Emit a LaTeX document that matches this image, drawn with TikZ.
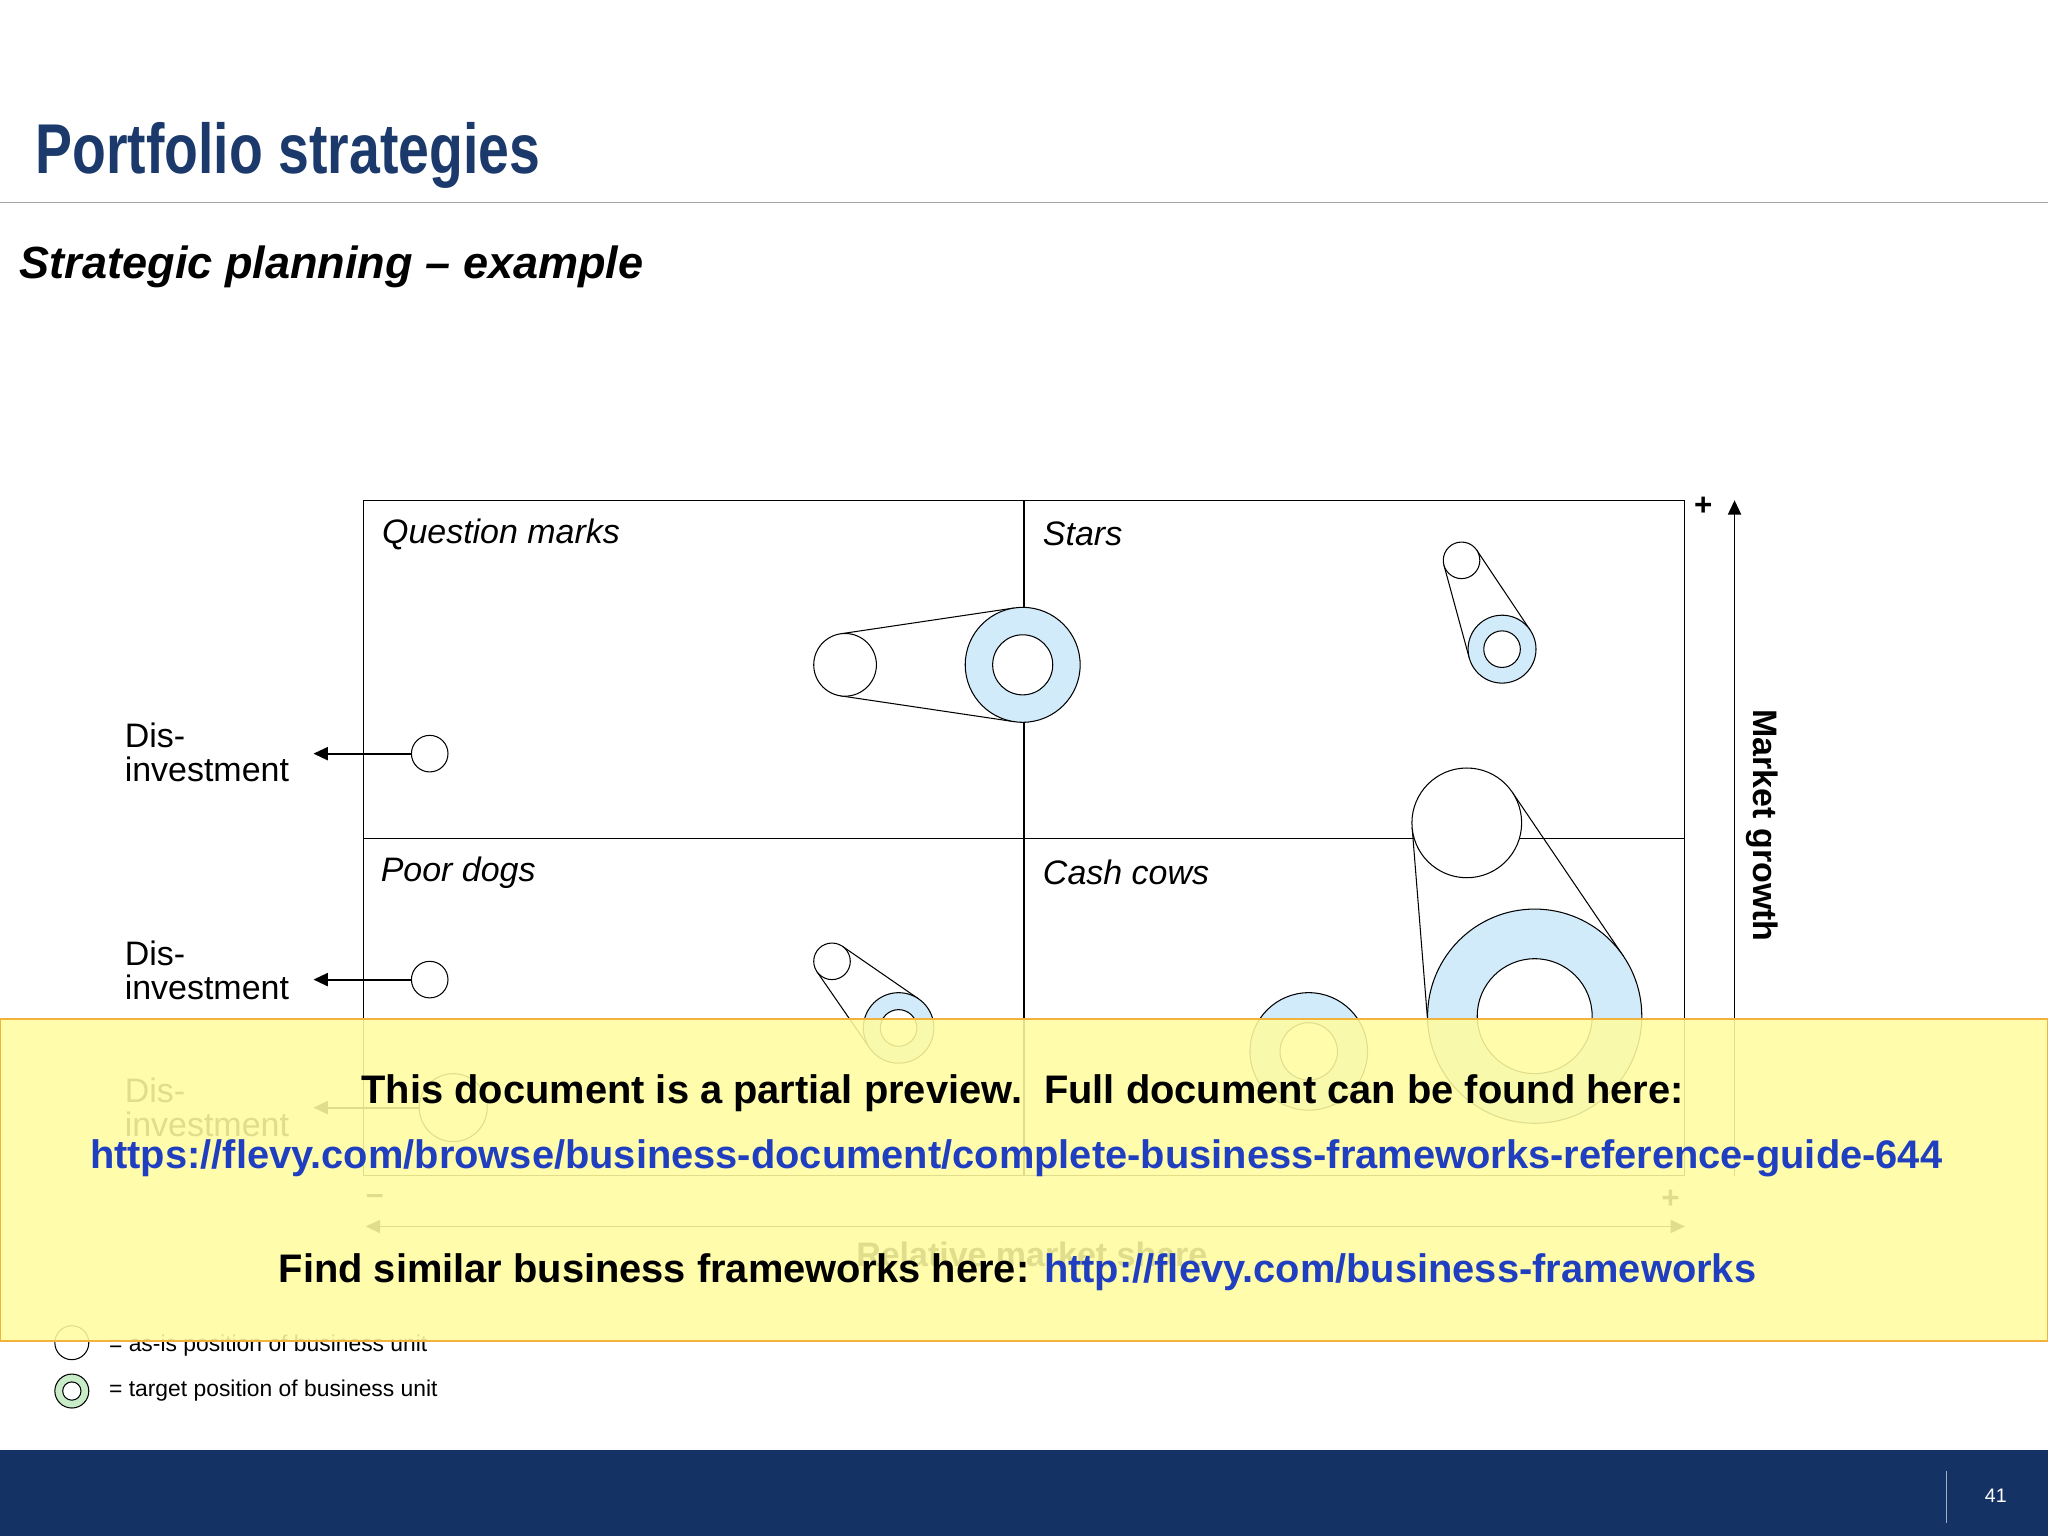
\documentclass[tikz,border=0pt]{standalone}
\usepackage{fontspec}
\setmainfont{Liberation Sans}
\usetikzlibrary{calc,arrows.meta}
\definecolor{navy}{HTML}{1B3A6B}
\definecolor{footblue}{HTML}{143263}
\definecolor{lblue}{HTML}{D2EBFB}
\definecolor{lgreen}{HTML}{C8ECC8}
\definecolor{linkblue}{HTML}{1F3FC0}
\definecolor{ovyellow}{HTML}{FFFCA0}
\definecolor{ovorange}{HTML}{F2B33D}
\newcommand{\fs}[1]{\fontsize{#1}{#1}\selectfont}
\newcommand{\belt}[6]{%
  \pgfmathsetmacro{\bdx}{#4-#1}\pgfmathsetmacro{\bdy}{#5-#2}%
  \pgfmathsetmacro{\bd}{veclen(\bdx,\bdy)}%
  \pgfmathsetmacro{\bth}{atan2(\bdy,\bdx)}%
  \pgfmathsetmacro{\bal}{acos((#3-#6)/\bd)}%
  \draw[thick] ($(#1,#2)+(\bth+\bal:#3)$) -- ($(#4,#5)+(\bth+\bal:#6)$);
  \draw[thick] ($(#1,#2)+(\bth-\bal:#3)$) -- ($(#4,#5)+(\bth-\bal:#6)$);}
\tikzset{
  asis/.style={circle,draw,thick,fill=white,inner sep=0pt,minimum size=#1},
  tgt/.style={circle,draw,thick,fill=lblue,inner sep=0pt,minimum size=#1},
  inner/.style={circle,draw,thick,fill=white,inner sep=0pt,minimum size=#1},
  quad/.style={anchor=west,font=\fs{26}\itshape},
  dis/.style={anchor=west,align=left,font=\fs{26}},
  arr/.style={line width=1.4,-{Triangle[length=11,width=10]}},
}
\begin{document}
\begin{tikzpicture}[x=1pt,y=-1pt]
\useasboundingbox (0,0) rectangle (1568,1176);
\fill[white] (0,0) rectangle (1568,1176);
% title
\node[anchor=base west,text=navy,inner sep=0] (title) at (27,133) {\scalebox{0.785}[1]{\fs{54}\bfseries Portfolio strategies}};
\draw[gray!70,line width=1.2] (0,155) -- (1568,155);
\node[anchor=base west,inner sep=0] (sub) at (15,213) {\fs{34.5}\bfseries\itshape Strategic planning -- example};
% grid
\draw[thick] (278,383) rectangle (1290,900);
\draw[thick] (784,383) -- (784,900);
\draw[thick] (278,642) -- (1290,642);
\node[quad] (qm) at (289,409) {Question marks};
\node[quad] (st) at (795,409) {Stars};
\node[quad] (pd) at (288,668) {Poor dogs};
\node[quad] (cc) at (795,668) {Cash cows};
% axes
\coordinate (ytop) at (1328,383); \coordinate (ybot) at (1328,900);
\draw[arr] (ybot) -- (ytop);
\node[font=\fs{24}\bfseries] (plus1) at (1304,388) {+};
\node[rotate=-90,font=\fs{26}\bfseries] (mg) at (1349,632) {Market growth};
\coordinate (xl) at (280,939); \coordinate (xr) at (1290,939);
\draw[line width=1.4,{Triangle[length=11,width=10]}-{Triangle[length=11,width=10]}] (xl) -- (xr);
\node[font=\fs{24}\bfseries] (minus) at (287,918) {--};
\node[font=\fs{24}\bfseries] (plus2) at (1279,918) {+};
\node[font=\fs{26}\bfseries] (rms) at (790,960) {Relative market share};
% disinvestment
\node[dis] (d1) at (92,576) {Dis-\\investment};
\node[asis=28] (c1) at (329,577) {};
\draw[arr] (c1) -- (240,577);
\node[dis] (d2) at (92,743) {Dis-\\investment};
\node[asis=28] (c2) at (329,750) {};
\draw[arr] (c2) -- (240,750);
\node[dis] (d3) at (92,848) {Dis-\\investment};
\node[asis=52] (c3) at (347,848) {};
\draw[arr] (c3) -- (240,848);
% question marks
\belt{647}{509}{24}{783}{509}{44}
\node[asis=48] (qa) at (647,509) {};
\node[tgt=88] (qt) at (783,509) {};
\node[inner=46] (qi) at (783,509) {};
% stars
\belt{1119}{429}{14}{1150}{497}{26}
\node[asis=28] (sa) at (1119,429) {};
\node[tgt=52] (stt) at (1150,497) {};
\node[inner=28] (si) at (1150,497) {};
% poor dogs
\belt{637}{736}{14}{688}{787}{27}
\node[asis=28] (pa) at (637,736) {};
\node[tgt=54] (pt) at (688,787) {};
\node[inner=28] (pi) at (688,787) {};
% cash cows
\node[tgt=90] (ct2) at (1002,805) {};
\node[inner=44] (ci2) at (1002,805) {};
\belt{1123}{630}{42}{1175}{778}{82}
\node[asis=84] (ca) at (1123,630) {};
\node[tgt=164] (ct) at (1175,778) {};
\node[inner=88] (ci) at (1175,778) {};
% legend
\node[asis=26] (la) at (55,1028) {};
\node[anchor=west,font=\fs{17.5}] (lt1) at (80,1030) {= as-is position of business unit};
\node[circle,draw,thick,fill=lgreen,inner sep=0pt,minimum size=26] (lg) at (55,1065) {};
\node[inner=14] (lgi) at (55,1065) {};
\node[anchor=west,font=\fs{17.5}] (lt2) at (80,1065) {= target position of business unit};
% overlay
\fill[ovyellow,opacity=0.88] (0,780) rectangle (1568,1027);
\draw[ovorange,line width=1.5] (0,780) rectangle (1568,1027);
\node[font=\fs{30.5}\bfseries] (o1) at (783,837) {This document is a partial preview.\ \ Full document can be found here:};
\node[font=\fs{30.5}\bfseries,text=linkblue] (o2) at (778,887) {https://flevy.com/browse/business-document/complete-business-frameworks-reference-guide-644};
\node[font=\fs{30.5}\bfseries] (o3) at (779,974) {Find similar business frameworks here: \textcolor{linkblue}{http://flevy.com/business-frameworks}};
% footer
\fill[footblue] (0,1110) rectangle (1568,1176);
\draw[white!60!footblue] (1490,1126) -- (1490,1166);
\node[text=white,font=\fs{15}] (pg) at (1528,1145) {41};
\end{tikzpicture}
\end{document}
